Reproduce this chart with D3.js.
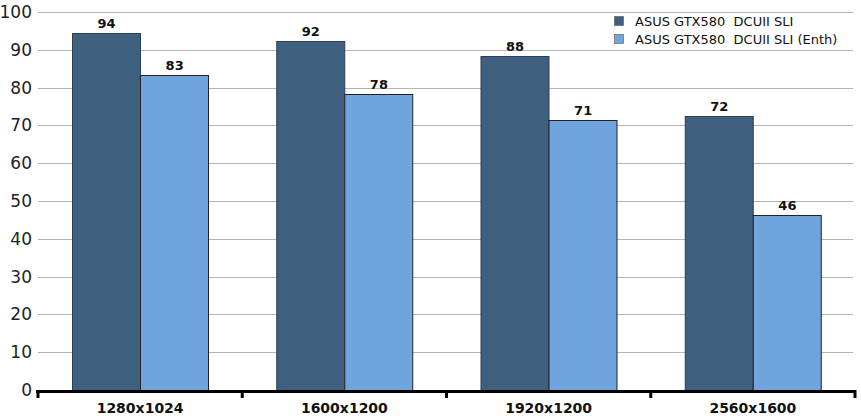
<!DOCTYPE html>
<html><head><meta charset="utf-8">
<script src="https://cdn.jsdelivr.net/npm/d3@7"></script>
<style>body{margin:0;background:#fff}svg{display:block}</style>
</head><body>
<script>
const categories = ["1280x1024","1600x1200","1920x1200","2560x1600"];
const seriesNames = ["ASUS GTX580  DCUII SLI","ASUS GTX580  DCUII SLI (Enth)"];
const seriesA = [94.4,92.3,88.4,72.4];
const seriesB = [83.3,78.3,71.4,46.3];
const yTicks = [0,10,20,30,40,50,60,70,80,90,100];
const colors = ["#3f5f7f","#6fa4dc"];

(function(){
const W=861,H=420;
const svg=d3.select("body").append("svg").attr("width",W).attr("height",H);
const mLeft=38,mRight=855,mTop=12,mBottom=390;
const x=d3.scaleBand().domain(categories).range([mLeft,mRight]).paddingInner(0).paddingOuter(0);
const x1=d3.scaleBand().domain([0,1]).range([0,x.bandwidth()]).paddingOuter(0.5).paddingInner(0);
const y=d3.scaleLinear().domain([0,100]).range([mBottom,mTop]);

svg.append("g").selectAll("line").data(yTicks.filter(d=>d>0)).join("line")
 .attr("x1",mLeft).attr("x2",853).attr("y1",d=>Math.round(y(d))+0.5).attr("y2",d=>Math.round(y(d))+0.5)
 .attr("stroke","#b4b4b4").attr("stroke-width",1);
svg.append("g").selectAll("text").data(yTicks).join("text")
 .attr("x",32).attr("y",d=>y(d)).attr("dy","0.35em").attr("text-anchor","end")
 .attr("font-family","DejaVu Sans, Verdana, sans-serif").attr("font-size",17).attr("fill","#222")
 .text(d=>d);

const data=categories.map((c,i)=>({c,vals:[seriesA[i],seriesB[i]]}));
const g=svg.append("g").selectAll("g").data(data).join("g").attr("transform",d=>`translate(${x(d.c)},0)`);
g.selectAll("rect").data(d=>d.vals.map((v,j)=>({v,j}))).join("rect")
 .attr("x",d=>Math.round(x1(d.j))+0.5).attr("width",Math.round(x1.bandwidth()))
 .attr("y",d=>Math.round(y(d.v))+0.5).attr("height",d=>mBottom-Math.round(y(d.v)))
 .attr("fill",d=>colors[d.j]).attr("stroke",d=>d.j===0?"#2c3f55":"#222").attr("stroke-width",1);
g.selectAll("text").data(d=>d.vals.map((v,j)=>({v,j}))).join("text")
 .attr("x",d=>x1(d.j)+x1.bandwidth()/2+0.5).attr("y",d=>y(d.v)-5)
 .attr("text-anchor","middle").attr("font-family","DejaVu Sans, Verdana, sans-serif")
 .attr("font-weight","bold").attr("font-size",13).attr("fill","#111").text(d=>Math.round(d.v));

svg.append("line").attr("x1",mLeft-2).attr("x2",mRight+1).attr("y1",mBottom+1.5).attr("y2",mBottom+1.5)
 .attr("stroke","#000").attr("stroke-width",3);
const bounds=categories.map(c=>x(c)).concat([mRight]);
svg.append("g").selectAll("line").data(bounds).join("line")
 .attr("x1",d=>d).attr("x2",d=>d).attr("y1",mBottom).attr("y2",mBottom+8)
 .attr("stroke","#000").attr("stroke-width",3);
svg.append("g").selectAll("text").data(categories).join("text")
 .attr("x",c=>x(c)+x.bandwidth()/2).attr("y",413).attr("text-anchor","middle")
 .attr("font-family","DejaVu Sans, Verdana, sans-serif").attr("font-weight","bold").attr("font-size",14)
 .attr("fill","#111").text(c=>c);

const lg=svg.append("g").selectAll("g").data(seriesNames).join("g")
 .attr("transform",(d,i)=>`translate(614,${16+i*18})`);
lg.append("rect").attr("width",9).attr("height",9).attr("x",0.5).attr("y",0.5)
 .attr("fill",(d,i)=>colors[i]).attr("stroke","#555").attr("stroke-width",0.6);
lg.append("text").attr("x",21).attr("y",5).attr("dy","0.35em")
 .attr("font-family","DejaVu Sans, Verdana, sans-serif").attr("font-size",13).attr("fill","#111")
 .attr("xml:space","preserve").style("white-space","pre").text(d=>d);
})();
</script>
</body></html>
